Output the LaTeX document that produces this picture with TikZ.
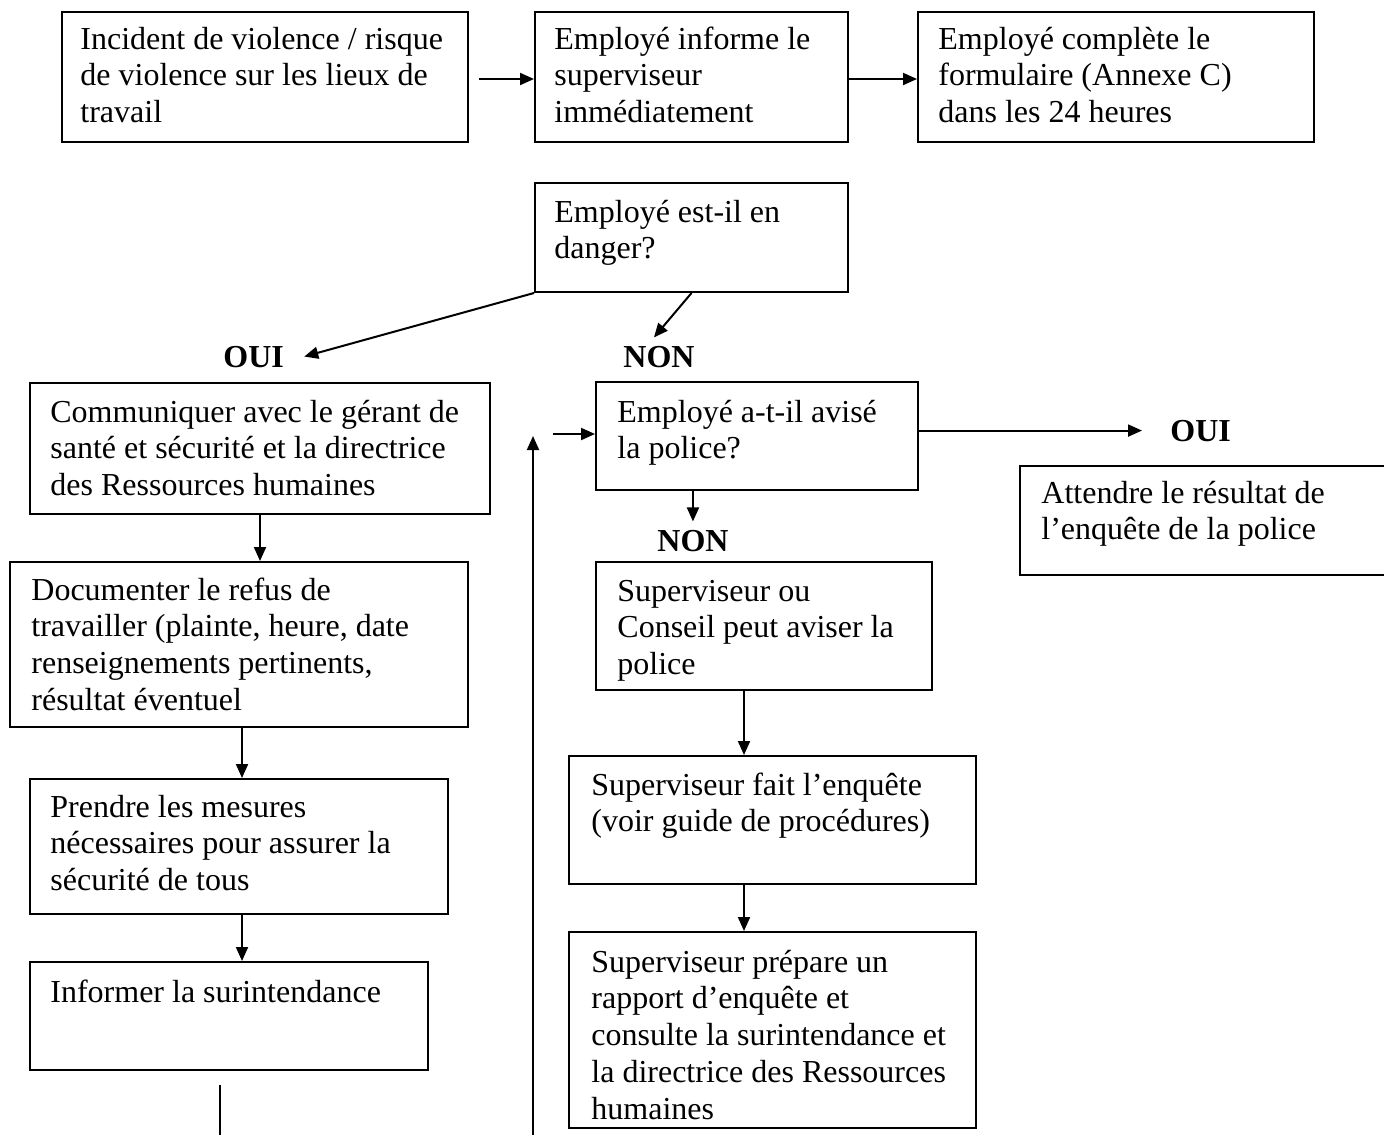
\documentclass[tikz,border=0pt]{standalone}
\usepackage{fontspec}
\setmainfont{Liberation Serif}
\usetikzlibrary{arrows.meta,fit,calc}

% lines of a box, baseline on the first line
\newcommand{\flowlines}[1]{\begin{tabular}[t]{@{}l@{}}#1\end{tabular}}

\begin{document}
\begin{tikzpicture}[x=0.5pt,y=0.5pt,yscale=-1,
  stepbox/.style={draw, line width=1pt, inner sep=0pt},
  steptext/.style={anchor=base west, inner sep=0pt, font=\fontsize{16pt}{18.4pt}\selectfont},
  answer/.style={anchor=base west, inner sep=0pt, font=\fontsize{16pt}{18.4pt}\selectfont\bfseries},
  flow/.style={line width=1pt, -{Triangle[length=7pt,width=6pt]}}]

\useasboundingbox (0,0) rectangle (1384,1135);

% top row
\node[stepbox, fit={(62,12) (468,142)}] (incident) {};
\node[steptext] (incidentT) at (80,49) {\flowlines{Incident de violence / risque\\de violence sur les lieux de\\travail}};
\node[stepbox, fit={(535,12) (848,142)}] (informe) {};
\node[steptext] (informeT) at (554,49) {\flowlines{Employé informe le\\superviseur\\immédiatement}};
\node[stepbox, fit={(918,12) (1314,142)}] (complete) {};
\node[steptext] (completeT) at (938,49) {\flowlines{Employé complète le\\formulaire (Annexe C)\\dans les 24 heures}};

\draw[flow] ($(incident.east)+(10,2)$) -- ($(informe.west)+(0,2)$);
\draw[flow] ($(informe.east)+(0,2)$) -- ($(complete.west)+(0,2)$);

% danger
\node[stepbox, fit={(535,183) (848,292)}] (danger) {};
\node[steptext] (dangerT) at (554,222) {\flowlines{Employé est-il en\\danger?}};
\node[answer] (ouiL) at (223,367) {OUI};
\node[answer] (nonL) at (623,367) {NON};

\draw[flow] (danger.south west) -- ($(ouiL.east)+(20,0)$);
\draw[flow] (danger.south) -- ($(nonL.north)+(-5,-8)$);

% left column
\node[stepbox, fit={(30,383) (490,514)}] (comm) {};
\node[steptext] (commT) at (50,422) {\flowlines{Communiquer avec le gérant de\\santé et sécurité et la directrice\\des Ressources humaines}};
\node[stepbox, fit={(10,562) (468,727)}] (doc) {};
\node[steptext] (docT) at (31,600) {\flowlines{Documenter le refus de\\travailler (plainte, heure, date\\renseignements pertinents,\\résultat éventuel}};
\node[stepbox, fit={(30,779) (448,914)}] (prendre) {};
\node[steptext] (prendreT) at (50,817) {\flowlines{Prendre les mesures\\nécessaires pour assurer la\\sécurité de tous}};
\node[stepbox, fit={(30,962) (428,1070)}] (informer) {};
\node[steptext] (informerT) at (50,1002) {\flowlines{Informer la surintendance}};

\draw[flow] (comm.south) -- (comm.south |- doc.north);
\draw[flow] ($(doc.south)+(3,0)$) -- ($(prendre.north)+(3,0)$);
\draw[flow] ($(prendre.south)+(3,0)$) -- ($(prendre.south |- informer.north)+(3,0)$);

\coordinate (tailBot) at (220,1135);
\draw[line width=1pt] (tailBot |- 0,1085) -- (tailBot);

% middle column
\node[stepbox, fit={(596,382) (918,490)}] (police) {};
\node[steptext] (policeT) at (617,422) {\flowlines{Employé a-t-il avisé\\la police?}};
\node[answer] (ouiR) at (1170,441) {OUI};
\node[answer] (nonB) at (657,551) {NON};

\coordinate (loopBot) at (533,1135);
\coordinate (loopTop) at (533,436);
\draw[flow] (loopBot) -- (loopTop);
\draw[flow] ($(police.west)+(-42,-2)$) -- ($(police.west)+(0,-2)$);
\draw[flow] (police.east |- ouiR.west) -- ($(ouiR.west)+(-28,0)$);
\draw[flow] (nonB.north |- police.south) -- ($(nonB.north)+(0,-8)$);

% police answer box (cut at the right edge)
\draw[line width=1pt] (1384,466) -- (1020,466) -- (1020,575) -- (1384,575);
\node[steptext] (attendreT) at (1041,503) {\flowlines{Attendre le résultat de\\l’enquête de la police}};

\node[stepbox, fit={(596,562) (932,690)}] (avise) {};
\node[steptext] (aviseT) at (617,601) {\flowlines{Superviseur ou\\Conseil peut aviser la\\police}};
\node[stepbox, fit={(569,756) (976,884)}] (enquete) {};
\node[steptext] (enqueteT) at (591,795) {\flowlines{Superviseur fait l’enquête\\(voir guide de procédures)}};
\node[stepbox, fit={(569,932) (976,1128)}] (rapport) {};
\node[steptext] (rapportT) at (591,972) {\flowlines{Superviseur prépare un\\rapport d’enquête et\\consulte la surintendance et\\la directrice des Ressources\\humaines}};

\coordinate (stem) at (744,690);
\draw[flow] (stem) -- (stem |- enquete.north);
\draw[flow] (stem |- enquete.south) -- (stem |- rapport.north);

\end{tikzpicture}
\end{document}
